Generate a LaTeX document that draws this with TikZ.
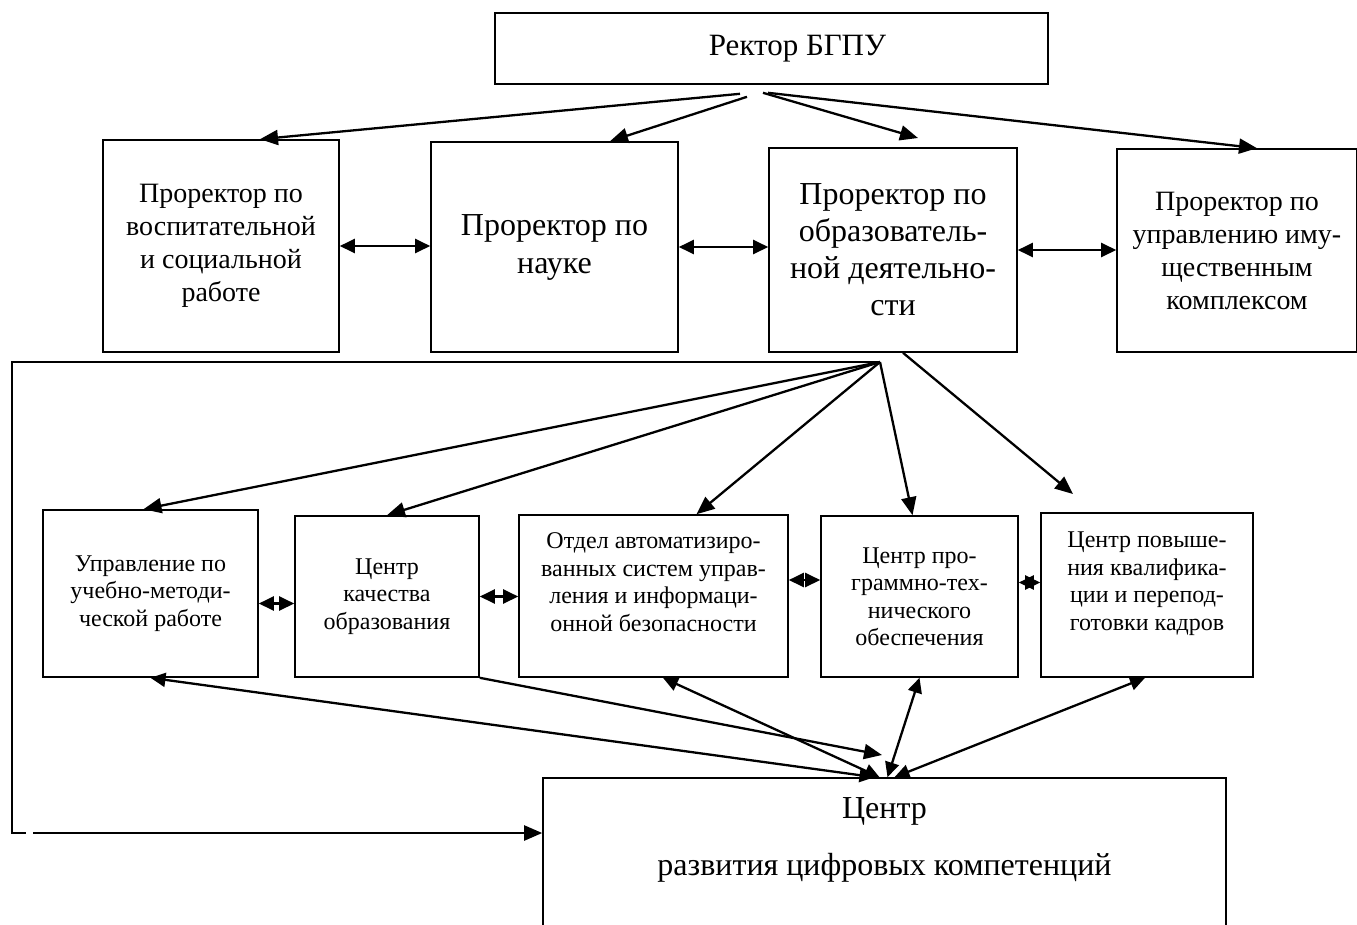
\documentclass[tikz,border=0pt]{standalone}
\usepackage{fontspec}
\setmainfont{Liberation Serif}
\usetikzlibrary{arrows.meta}

\tikzset{
  box/.style={draw, line width=1.6pt, align=center, inner sep=2pt},
  arr/.style={line width=2.3pt, -{Triangle[length=18pt,width=15pt]}},
  dbl/.style={line width=2.3pt, {Triangle[length=15pt,width=14pt]}-{Triangle[length=15pt,width=14pt]}},
  wire/.style={line width=1.6pt},
}

\begin{document}
\begin{tikzpicture}[x=1pt,y=-1pt]
            \useasboundingbox (0,0) rectangle (1357,924);

            % ректор
            \node[box, minimum width=553pt, minimum height=71pt, font=\fontsize{31}{36}\selectfont]
                (rector) at (771.5,48.5) {\hspace*{52pt}Ректор БГПУ};

            % проректоры
            \node[box, minimum width=236pt, minimum height=212pt, font=\fontsize{28}{33}\selectfont]
                (vosp) at (221,246) {Проректор по\\воспитательной\\и социальной\\работе};
            \node[box, minimum width=247pt, minimum height=210pt, font=\fontsize{32}{38}\selectfont]
                (nauka) at (554.5,247) {Проректор по\\науке};
            \node[box, minimum width=248pt, minimum height=204pt, font=\fontsize{32}{37}\selectfont]
                (obraz) at (893,250) {Проректор по\\образователь-\\ной деятельно-\\сти};
            \node[box, minimum width=240pt, minimum height=203pt, font=\fontsize{28}{33}\selectfont]
                (imush) at (1237,250.5) {Проректор по\\управлению иму-\\щественным\\комплексом};

            % подразделения
            \node[box, minimum width=215pt, minimum height=167pt, font=\fontsize{24}{27.5}\selectfont]
                (umr) at (150.5,593.5) {Управление по\\учебно-методи-\\ческой работе};
            \node[box, minimum width=184pt, minimum height=161pt, font=\fontsize{24}{27.5}\selectfont]
                (kach) at (387,596.5) {Центр\\качества\\образования};
            \node[box, minimum width=269pt, minimum height=162pt, font=\fontsize{24}{27.5}\selectfont]
                (oasu) at (653.5,596) {Отдел автоматизиро-\\ванных систем управ-\\ления и информаци-\\онной безопасности\\\mbox{}};
            \node[box, minimum width=197pt, minimum height=161pt, font=\fontsize{24}{27.5}\selectfont]
                (cpto) at (919.5,596.5) {Центр про-\\граммно-тех-\\нического\\обеспечения};
            \node[box, minimum width=212pt, minimum height=164pt, font=\fontsize{24}{27.5}\selectfont]
                (cpk) at (1147,595) {Центр повыше-\\ния квалифика-\\ции и перепод-\\готовки кадров\\\mbox{}};

            % центр цифровых компетенций (низ обрезан)
            \node[box, minimum width=683pt, minimum height=162pt, font=\fontsize{32}{37}\selectfont]
                (cifra) at (884.5,859) {Центр\\[20pt]развития цифровых компетенций\\[7pt]\mbox{}};

            % стрелки от ректора
            \coordinate (obrtip) at (918,138);
            \draw[arr] ([xshift=-31.5pt,yshift=-9pt]rector.south) -- ([xshift=39pt]vosp.north);
            \draw[arr] ([xshift=-24.5pt,yshift=-12pt]rector.south) -- ([xshift=55.5pt]nauka.north);
            \draw[arr] ([xshift=-8.5pt,yshift=-8pt]rector.south) -- (obrtip);
            \draw[arr] ([xshift=-3.5pt,yshift=-8pt]rector.south) -- ([xshift=20pt]imush.north);

            % связи между проректорами
            \draw[dbl] (vosp.east) -- (vosp.east -| nauka.west);
            \draw[dbl] (nauka.east) -- (nauka.east -| obraz.west);
            \draw[dbl] (obraz.east) -- (obraz.east -| imush.west);

            % веер от проректора по образовательной деятельности
            \coordinate (hub) at (880,362);
            \coordinate (lt) at (12,362);
            \coordinate (lb) at (12,833);
            \coordinate (stub) at (26,833);
            \coordinate (feed) at (33,833);
            \coordinate (cpktip) at (1073,494);
            \draw[wire] (hub) -- (lt) -- (lb) -- (stub);
            \draw[arr] (feed) -- (feed -| cifra.west);
            \draw[arr] (hub) -- ([xshift=-7pt]umr.north);
            \draw[arr] (hub) -- (kach.north);
            \draw[arr] (hub) -- ([xshift=43pt]oasu.north);
            \draw[arr] (hub) -- ([xshift=-7pt]cpto.north);
            \draw[arr] ([xshift=10pt]obraz.south) -- (cpktip);

            % связи между подразделениями
            \draw[dbl] ([yshift=-10pt]umr.east) -- ([yshift=-10pt]umr.east -| kach.west);
            \draw[dbl] (kach.east) -- (kach.east -| oasu.west);
            \draw[dbl] ([yshift=16pt]oasu.east) -- ([yshift=16pt]oasu.east -| cpto.west);
            \draw[dbl] ([yshift=14pt]cpto.east) -- ([yshift=14pt]cpto.east -| cpk.west);

            % связи с центром цифровых компетенций
            \coordinate (kachtip) at (882,755);
            \draw[dbl] ([xshift=-10pt]cifra.north) -- (umr.south);
            \draw[arr] (kach.south east) -- (kachtip);
            \draw[dbl] ([xshift=-5pt]cifra.north) -- ([xshift=9.5pt]oasu.south);
            \draw[dbl] ([xshift=3pt]cifra.north) -- (cpto.south);
            \draw[dbl] ([xshift=10pt]cifra.north) -- ([xshift=-2pt]cpk.south);
\end{tikzpicture}
\end{document}
